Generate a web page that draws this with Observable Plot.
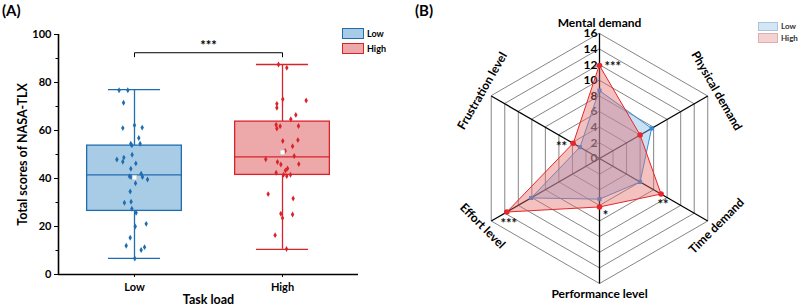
<!DOCTYPE html>
<html><head><meta charset="utf-8">
<script src="https://cdn.jsdelivr.net/npm/d3@7"></script>
<script src="https://cdn.jsdelivr.net/npm/@observablehq/plot@0.6"></script>
<style>
body{margin:0;background:#fff;font-family:Lato,"Open Sans",sans-serif;font-weight:700;color:#000}
#wrap{position:relative;width:800px;height:307px;overflow:hidden}
#wrap svg{position:absolute;top:0}
.t{position:absolute;font-weight:700;white-space:nowrap}
.sw{position:absolute;box-sizing:border-box}
</style></head><body><div id="wrap"></div>
<script>
// ---------- Panel A data ----------
const groups = ["Low", "High"];
const lowScores = [76.8,76.8,71.6,61.0,62.2,61.2,56.9,54.5,54.5,53.8,48.7,47.9,47.0,49.9,46.3,44.1,42.0,40.9,40.6,40.6,39.6,38.0,34.6,29.9,30.3,27.4,25.7,21.1,20.0,15.3,12.0,10.2,11.4,6.7];
const lowJitter = [-0.104,-0.045,-0.074,-0.079,0,0.052,0.029,0.038,-0.025,-0.018,-0.072,-0.119,-0.079,-0.016,0.009,-0.025,0.045,-0.034,-0.023,0.054,0.088,0.007,-0.029,-0.068,-0.023,-0.018,0.011,0.079,0.005,-0.029,-0.056,0.045,0.068,0.002];
const highScores = [87.5,86.1,73.0,72.5,71.1,69.5,66.5,64.7,62.4,61.8,61.9,60.8,55.6,56.0,53.4,51.5,49.4,48.0,46.9,45.8,46.0,44.2,43.3,42.4,41.6,41.0,41.6,33.5,31.7,25.3,25.0,23.5,16.4,10.6];
const highJitter = [-0.027,0.029,0.002,0.160,-0.038,-0.038,0.090,0.056,-0.043,-0.016,0.108,-0.038,0.002,0.104,0.068,0.018,0.079,-0.113,-0.034,-0.011,0.110,0.034,0.020,-0.043,0.007,0.029,0.054,-0.097,0.072,-0.011,0.068,0,-0.050,0.027];
const whiskerLow = [6.7, 10.5];
const quartile1 = [26.5, 41.5];
const medians = [41.5, 49.0];
const quartile3 = [53.7, 63.7];
const whiskerHigh = [77.0, 87.5];
const means = [40.4, 50.9];
const yTicks = [0, 20, 40, 60, 80, 100];
const yMinorTicks = [10, 30, 50, 70, 90];
const sigBracket = {from: 0, to: 1, y: 92.4, drop: 1.7, label: "***"};

// ---------- Panel B data ----------
const radarAxes = ["Mental demand", "Physical demand", "Time demand", "Performance level", "Effort level", "Frustration level"];
const radarLow = [8.7, 7.7, 6.0, 5.2, 10.1, 2.9];
const radarHigh = [11.9, 6.0, 9.1, 6.2, 13.7, 3.9];
const radarTicks = [0, 2, 4, 6, 8, 10, 12, 14, 16];
const radarStars = ["***", "", "**", "*", "***", "**"];

const blue = "#1f6db1", blueFill = "#a8cce6";
const red = "#d9232a", redFill = "#eda8aa";
const font = "Lato, 'Open Sans', sans-serif";
const wrap = document.getElementById("wrap");

// ---------- Panel A ----------
const xDomain = [-0.5135, 1.5135];
const boxHalf = 0.32, capHalf = 0.176;
const stats = groups.map((g, i) => ({g, i, q1: quartile1[i], med: medians[i], q3: quartile3[i], lo: whiskerLow[i], hi: whiskerHigh[i], mean: means[i]}));
const pts = [
  ...lowScores.map((v, k) => ({g: "Low", x: 0 + lowJitter[k], v})),
  ...highScores.map((v, k) => ({g: "High", x: 1 + highJitter[k], v}))
];
const col = g => g === "Low" ? blue : red;
const fil = g => g === "Low" ? blueFill : redFill;
const bracket = [
  {x: sigBracket.from, y: sigBracket.y - sigBracket.drop},
  {x: sigBracket.from, y: sigBracket.y},
  {x: sigBracket.to, y: sigBracket.y},
  {x: sigBracket.to, y: sigBracket.y - sigBracket.drop}
];

const plotA = Plot.plot({
  width: 400, height: 307,
  marginLeft: 58, marginRight: 42, marginTop: 34, marginBottom: 33,
  style: {fontFamily: font, fontWeight: 700, fontSize: "11px", color: "#000", background: "transparent"},
  x: {type: "linear", domain: xDomain},
  y: {domain: [0, 100]},
  marks: [
    Plot.rect(stats, {x1: d => d.i - boxHalf, x2: d => d.i + boxHalf, y1: "q1", y2: "q3", fill: d => fil(d.g), stroke: d => col(d.g), strokeWidth: 1.3}),
    Plot.ruleY(stats, {y: "med", x1: d => d.i - boxHalf, x2: d => d.i + boxHalf, stroke: d => col(d.g), strokeWidth: 1.3}),
    Plot.ruleX(stats, {x: "i", y1: "lo", y2: "q1", stroke: d => col(d.g), strokeWidth: 1.3}),
    Plot.ruleX(stats, {x: "i", y1: "q3", y2: "hi", stroke: d => col(d.g), strokeWidth: 1.3}),
    Plot.ruleY(stats, {y: "lo", x1: d => d.i - capHalf, x2: d => d.i + capHalf, stroke: d => col(d.g), strokeWidth: 1.3}),
    Plot.ruleY(stats, {y: "hi", x1: d => d.i - capHalf, x2: d => d.i + capHalf, stroke: d => col(d.g), strokeWidth: 1.3}),
    Plot.dot(pts, {x: "x", y: "v", symbol: "diamond", r: 1.8, fill: d => col(d.g), stroke: "none"}),
    Plot.dot(stats, {x: "i", y: "mean", symbol: "square", r: 2.6, fill: "white", stroke: "#bbb", strokeWidth: 0.6}),
    Plot.line(bracket, {x: "x", y: "y", stroke: "#000", strokeWidth: 1}),
    Plot.text([sigBracket], {x: d => (d.from + d.to) / 2, y: "y", text: "label", dy: -7, fontSize: 13, fontWeight: 700, fill: "#000"}),
    Plot.ruleY([0], {stroke: "#000", strokeWidth: 1.6}),
    Plot.ruleX([xDomain[0]], {stroke: "#000", strokeWidth: 1.6}),
    Plot.axisY({ticks: yTicks, tickSize: 4, tickPadding: 3, fontSize: 11, label: "Total scores of NASA-TLX", labelAnchor: "center", labelArrow: "none", labelOffset: 40, tickFormat: d => String(d)}),
    Plot.axisY({ticks: yMinorTicks, tickSize: 2.5, tickFormat: () => "", label: null}),
    Plot.axisX({ticks: [0, 1], tickSize: 3, tickPadding: 6, fontSize: 11, tickFormat: i => groups[i], label: "Task load", labelAnchor: "center", labelArrow: "none", labelOffset: 29})
  ]
});
plotA.style.left = "0px";
plotA.querySelectorAll("g[aria-label='y-axis label'] text, g[aria-label='x-axis label'] text").forEach(t => t.setAttribute("font-size", "12.5"));
wrap.appendChild(plotA);

// ---------- Panel B ----------
const R = 16;
const ang = i => Math.PI / 2 - i * Math.PI / 3;
const px = (i, r) => r * Math.cos(ang(i));
const py = (i, r) => r * Math.sin(ang(i));
const gridLevels = radarTicks.filter(t => t > 0);
const grid = gridLevels.flatMap(l => radarAxes.map((a, i) => ({l, x: px(i, l), y: py(i, l)})));
const spokes = radarAxes.map((a, i) => ({x1: 0, y1: 0, x2: px(i, R), y2: py(i, R)}));
const lowPts = radarLow.map((v, i) => ({x: px(i, v), y: py(i, v)}));
const highPts = radarHigh.map((v, i) => ({x: px(i, v), y: py(i, v)}));
const labelR = 17.3;
const labelRot = [0, 60, -45, 0, 45, -60];
const axisLabels = radarAxes.map((a, i) => ({a, x: px(i, labelR), y: py(i, labelR), rot: labelRot[i]}));
const starOffsets = [[5, 1, "start"], [0, 0, "middle"], [2, 11, "middle"], [6, 9, "middle"], [2, 12, "middle"], [-6, 4, "end"]];
const starMarks = radarStars.map((s, i) => s ? Plot.text([{s, x: px(i, radarHigh[i]), y: py(i, radarHigh[i])}], {x: "x", y: "y", text: "s", dx: starOffsets[i][0], dy: starOffsets[i][1], textAnchor: starOffsets[i][2], fontSize: 13, fontWeight: 700, fill: "#111"}) : null).filter(Boolean);

const plotB = Plot.plot({
  width: 400, height: 307,
  margin: 0,
  style: {fontFamily: font, fontWeight: 700, color: "#000", background: "transparent"},
  x: {domain: [-R, R], range: [74, 324], axis: null},
  y: {domain: [-R, R], range: [283, 33], axis: null},
  marks: [
    Plot.line(grid, {x: "x", y: "y", z: "l", curve: "linear-closed", stroke: "#666", strokeWidth: 0.8}),
    Plot.link(spokes, {x1: "x1", y1: "y1", x2: "x2", y2: "y2", stroke: "#000", strokeWidth: 1.3}),
    Plot.text(radarTicks, {x: 0, y: d => d, text: d => String(d), textAnchor: "end", dx: -2, fontSize: 12, fontWeight: 700, fill: "#000"}),
    Plot.line(lowPts, {x: "x", y: "y", curve: "linear-closed", fill: "#7fb8e6", fillOpacity: 0.42, stroke: "#3a8fd9", strokeWidth: 1}),
    Plot.dot(lowPts, {x: "x", y: "y", symbol: "square", r: 2.3, fill: "#2a8ae0"}),
    Plot.line(highPts, {x: "x", y: "y", curve: "linear-closed", fill: "#e46c6c", fillOpacity: 0.42, stroke: "#e8262b", strokeWidth: 1}),
    Plot.dot(highPts, {x: "x", y: "y", r: 2.8, fill: "#e8262b"}),
    ...starMarks,
    Plot.text(axisLabels, {x: "x", y: "y", text: "a", rotate: "rot", fontSize: 12, fontWeight: 700, fill: "#000"})
  ]
});
plotB.style.left = "400px";
wrap.appendChild(plotB);

// ---------- titles & legends ----------
function addText(txt, left, top, size, color) {
  const d = document.createElement("div");
  d.className = "t"; d.textContent = txt;
  d.style.left = left + "px"; d.style.top = top + "px"; d.style.fontSize = size + "px";
  d.style.color = color || "#000"; d.style.lineHeight = "1";
  wrap.appendChild(d);
}
function addSwatch(left, top, w, h, fill, stroke, sw) {
  const d = document.createElement("div");
  d.className = "sw";
  Object.assign(d.style, {left: left + "px", top: top + "px", width: w + "px", height: h + "px", background: fill, border: sw + "px solid " + stroke});
  wrap.appendChild(d);
}
addText("(A)", 2, 3, 15);
addText("(B)", 415, 3, 15);
addSwatch(342, 28, 22, 11, blueFill, blue, 1.5);
addSwatch(342, 43, 22, 11, redFill, red, 1.5);
addText(groups[0], 367, 29, 9);
addText(groups[1], 367, 44, 9);
addSwatch(758, 22, 20, 9, "#d4e5f4", "#a9c4de", 1);
addSwatch(758, 33, 20, 10, "#f6d1d1", "#dbb0b0", 1);
addText(groups[0], 781, 22, 8, "#333");
addText(groups[1], 781, 34, 8, "#333");
</script>
</body></html>
